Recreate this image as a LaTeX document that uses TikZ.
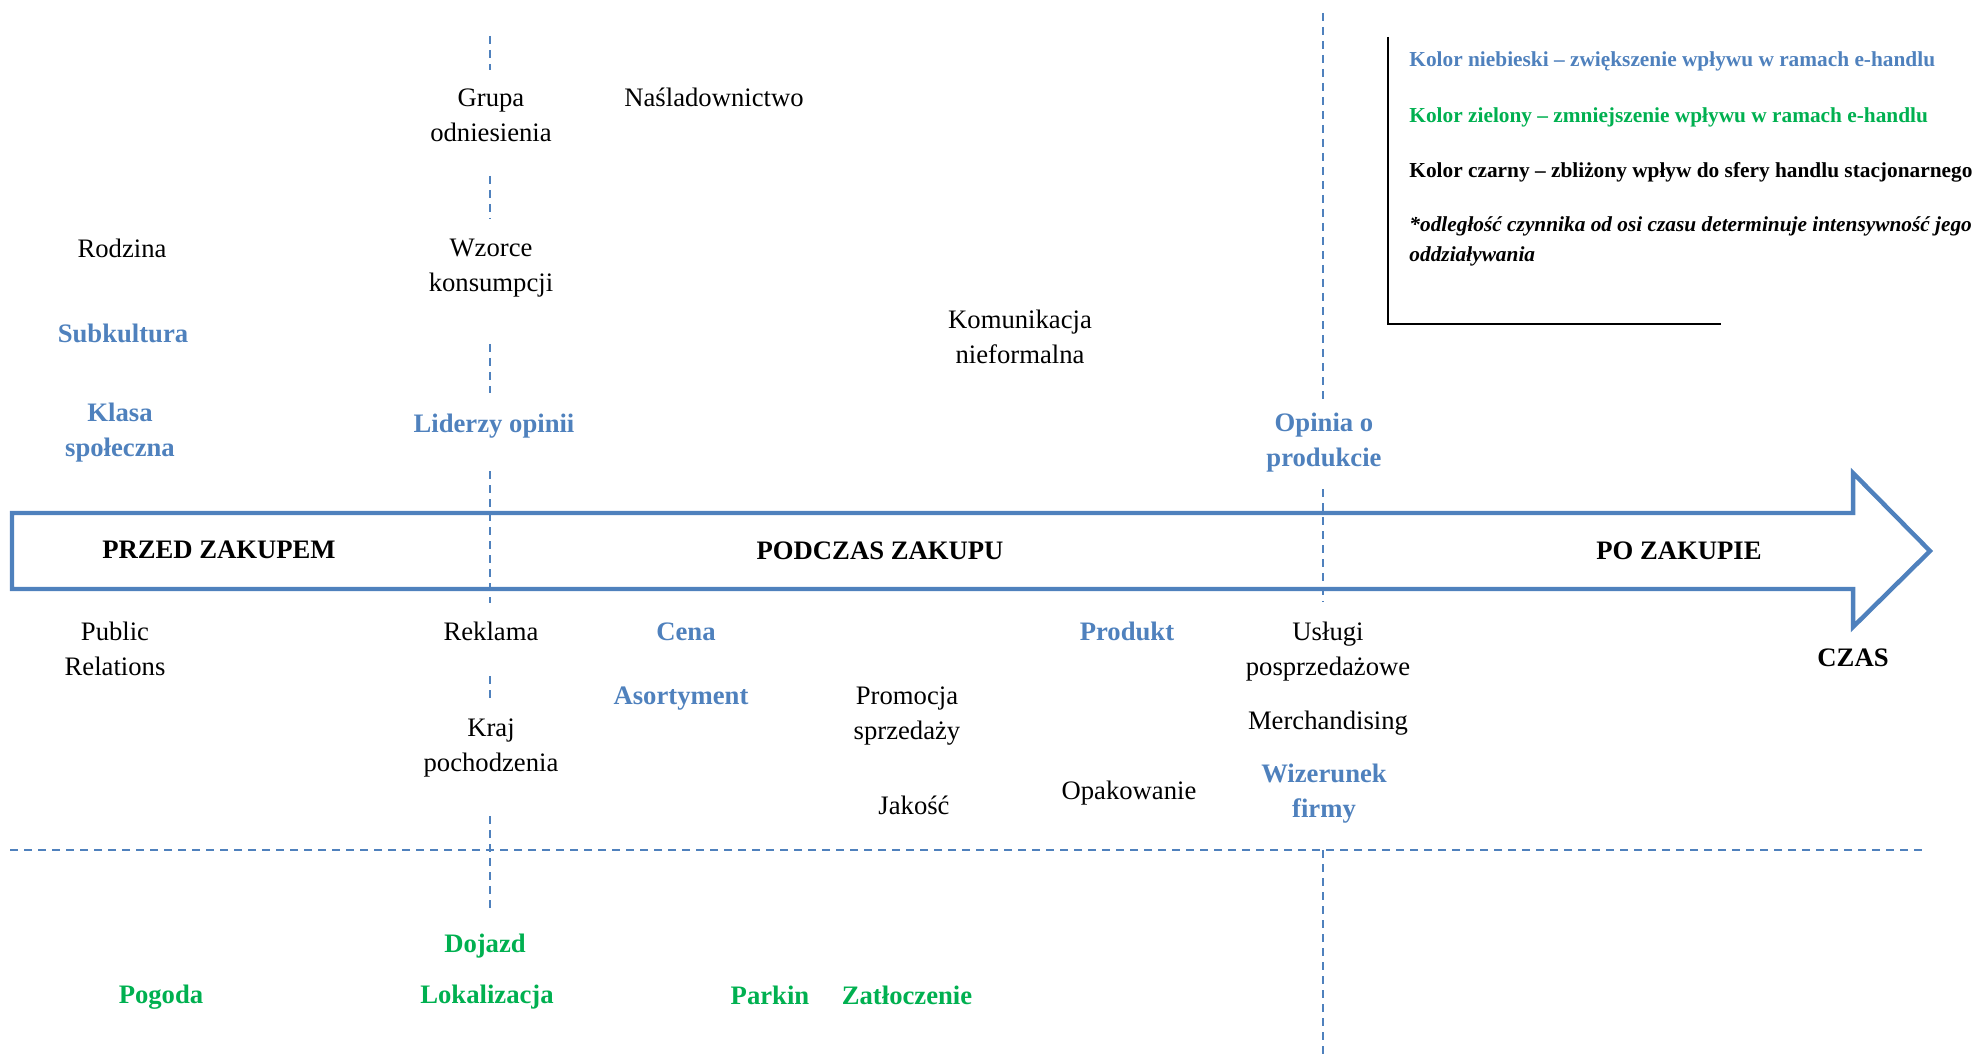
\documentclass[tikz,border=0pt]{standalone}
\usepackage{fontspec}
\setmainfont{Liberation Serif}
\definecolor{axisblue}{HTML}{4F81BD}
\definecolor{factorblue}{HTML}{4F81BD}
\definecolor{factorgreen}{HTML}{00B050}
\begin{document}
\begin{tikzpicture}[x=0.45pt,y=-0.45pt,
  lbl/.style={align=center,inner sep=0pt,font=\fontsize{12}{15.75}\selectfont},
  more/.style={lbl,text=factorblue,font=\fontsize{12}{15.75}\selectfont\bfseries},
  less/.style={lbl,text=factorgreen,font=\fontsize{12}{15.75}\selectfont\bfseries},
  phase/.style={lbl,font=\fontsize{12}{15.75}\selectfont\bfseries},
  guide/.style={draw=axisblue,line width=0.9pt,dash pattern=on 3.6pt off 2.7pt},
  legendtext/.style={anchor=west,inner sep=0pt,align=left,font=\fontsize{9.6}{13.5}\selectfont\bfseries}
]
\useasboundingbox (0,0) rectangle (1975,1055);

% guide lines
\draw[guide] (490,36) -- (490,70);
\draw[guide] (490,176) -- (490,219);
\draw[guide] (490,344) -- (490,393);
\draw[guide] (490,471) -- (490,603);
\draw[guide] (490,676) -- (490,699);
\draw[guide] (490,816) -- (490,912);
\draw[guide] (1323,13) -- (1323,403);
\draw[guide] (1323,489) -- (1323,602);
\draw[guide] (1323,850) -- (1323,1055);
\draw[guide] (10,850) -- (1925,850);

% time axis arrow
\draw[axisblue,line width=2pt,line join=miter]
  (12,513) -- (1853,513) -- (1853,473) -- (1930,551) -- (1853,627) -- (1853,589) -- (12,589) -- cycle;

% phases
\node[phase] (przed) at (219,550) {PRZED ZAKUPEM};
\node[phase] (podczas) at (880,551) {PODCZAS ZAKUPU};
\node[phase] (po) at (1679,551) {PO ZAKUPIE};
\node[phase] (czas) at (1853,658) {CZAS};

% factors above the axis
\node[lbl] (grupa) at (491,115) {Grupa\\odniesienia};
\node[lbl] (nasl) at (714,97) {Naśladownictwo};
\node[lbl] (rodzina) at (122,248) {Rodzina};
\node[lbl] (wzorce) at (491,268) {Wzorce\\konsumpcji};
\node[more] (subk) at (123,333) {Subkultura};
\node[lbl] (komun) at (1020,337) {Komunikacja\\nieformalna};
\node[more] (klasa) at (120,433) {Klasa\\społeczna};
\node[more] (liderzy) at (494,426) {Liderzy opinii};
\node[more] (opinia) at (1324,443) {Opinia o\\produkcie};

% factors below the axis
\node[lbl] (pr) at (115,649) {Public\\Relations};
\node[lbl] (reklama) at (491,631) {Reklama};
\node[more] (cena) at (686,632) {Cena};
\node[more] (produkt) at (1127,631) {Produkt};
\node[lbl] (uslugi) at (1328,652) {Usługi\\posprzedażowe};
\node[more] (asort) at (681,699) {Asortyment};
\node[lbl] (promocja) at (907,716) {Promocja\\sprzedaży};
\node[lbl] (kraj) at (491,748) {Kraj\\pochodzenia};
\node[lbl] (merch) at (1328,723) {Merchandising};
\node[more] (wizerunek) at (1324,794) {Wizerunek\\firmy};
\node[lbl] (opak) at (1129,793) {Opakowanie};
\node[lbl] (jakosc) at (914,805) {Jakość};

% factors weakened online
\node[less] (dojazd) at (485,946) {Dojazd};
\node[less] (pogoda) at (161,997) {Pogoda};
\node[less] (lokal) at (487,997) {Lokalizacja};
\node[less] (parkin) at (770,995) {Parkin};
\node[less] (zatl) at (907,995) {Zatłoczenie};

% legend
\draw[black,line width=1pt] (1388,37) -- (1388,324) -- (1721,324);
\node[legendtext,text=factorblue] (leg1) at (1409,61) {Kolor niebieski – zwiększenie wpływu w ramach e-handlu};
\node[legendtext,text=factorgreen] (leg2) at (1409,117) {Kolor zielony – zmniejszenie wpływu w ramach e-handlu};
\node[legendtext] (leg3) at (1409,172) {Kolor czarny – zbliżony wpływ do sfery handlu stacjonarnego};
\node[legendtext,font=\fontsize{9.6}{13.5}\selectfont\bfseries\itshape] (leg4) at (1409,241) {*odległość czynnika od osi czasu determinuje intensywność jego\\oddziaływania};
\end{tikzpicture}
\end{document}
